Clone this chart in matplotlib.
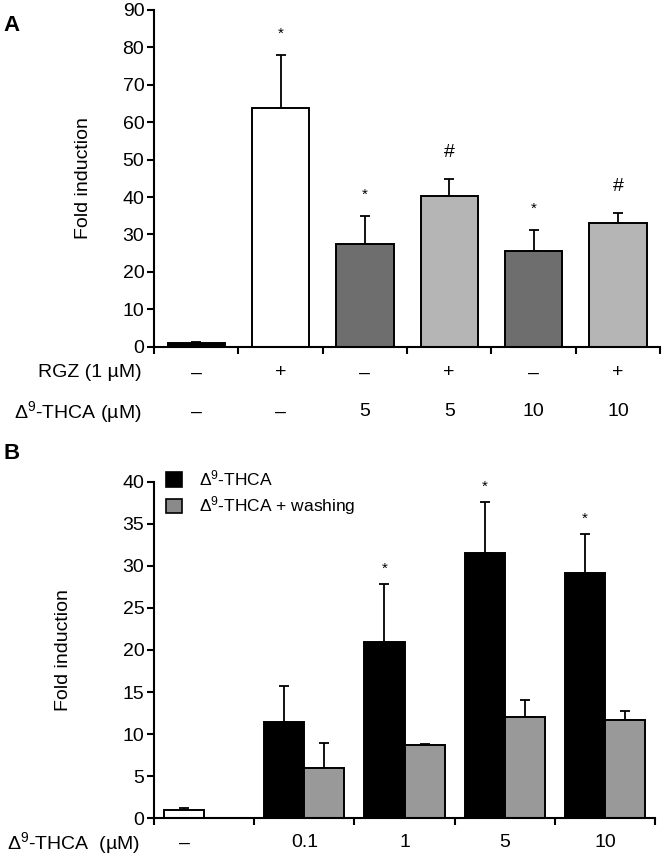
import numpy as np
import matplotlib.pyplot as plt
from matplotlib.patches import Patch

plt.rcParams["font.family"] = ["Liberation Sans", "DejaVu Sans"]
plt.rcParams["mathtext.fontset"] = "custom"
plt.rcParams["mathtext.rm"] = "Liberation Sans"
plt.rcParams["mathtext.it"] = "Liberation Sans:italic"

# ------------------------------------------------------------
# Panel A data
# ------------------------------------------------------------
a_values = [1.0, 63.8, 27.5, 40.3, 25.5, 33.0]
a_errors = [0.3, 14.2, 7.4, 4.5, 5.7, 2.7]
a_colors = ["#000000", "#ffffff", "#6e6e6e", "#b5b5b5", "#6e6e6e", "#b5b5b5"]
a_marks = ["", "*", "*", "#", "*", "#"]
a_rgz = ["–", "+", "–", "+", "–", "+"]
a_thca = ["–", "–", "5", "5", "10", "10"]

# ------------------------------------------------------------
# Panel B data
# ------------------------------------------------------------
b_labels = ["–", "0.1", "1", "5", "10"]
b_control = 1.0
b_control_err = 0.2
b_thca = [11.4, 21.0, 31.5, 29.1]
b_thca_err = [4.3, 6.8, 6.1, 4.7]
b_wash = [6.0, 8.7, 12.0, 11.7]
b_wash_err = [2.9, 0.15, 2.0, 1.1]
b_marks = ["", "*", "*", "*"]

FS = 14
THCA = r"Δ$^{9}$-THCA"

fig = plt.figure(figsize=(6.65, 8.6), dpi=100)


def style_axes(ax):
    for side in ["top", "right"]:
        ax.spines[side].set_visible(False)
    for side in ["left", "bottom"]:
        ax.spines[side].set_linewidth(1.5)
    ax.tick_params(axis="y", direction="out", length=5, width=1.5, labelsize=FS, pad=2)
    ax.tick_params(axis="x", direction="out", length=5, width=1.5, labelbottom=False)


# ============================================================
# Panel A
# ============================================================
axA = fig.add_axes([0.2316, 0.5969, 0.761, 0.3915])
xa = np.arange(len(a_values)) + 0.5
axA.bar(xa, a_values, width=0.68, color=a_colors, edgecolor="black", linewidth=1.4, zorder=2)
axA.errorbar(xa, a_values, yerr=[np.zeros(len(a_errors)), a_errors], fmt="none",
             ecolor="black", elinewidth=1.3, capsize=3.5, capthick=1.3, zorder=1)

for x, v, e, m in zip(xa, a_values, a_errors, a_marks):
    if m:
        fs = 11 if m == "*" else 14
        off = 10 if m == "*" else 13
        axA.annotate(m, (x, v + e), xytext=(0, off), textcoords="offset points",
                     ha="center", va="bottom", fontsize=fs)

axA.set_xlim(0, len(a_values))
axA.set_ylim(0, 90)
axA.set_yticks(np.arange(0, 91, 10))
axA.set_xticks(np.arange(0, len(a_values) + 1))
axA.set_ylabel("Fold induction", fontsize=FS, labelpad=22)
style_axes(axA)

for x, r, t in zip(xa, a_rgz, a_thca):
    axA.text(x, -0.078, r, transform=axA.get_xaxis_transform(), ha="center", va="center", fontsize=FS)
    axA.text(x, -0.194, t, transform=axA.get_xaxis_transform(), ha="center", va="center", fontsize=FS)
axA.text(-0.024, -0.078, "RGZ (1 µM)", transform=axA.transAxes, ha="right", va="center", fontsize=FS)
axA.text(-0.024, -0.194, THCA + " (µM)", transform=axA.transAxes, ha="right", va="center", fontsize=FS)

fig.text(0.005, 0.97, "A", fontsize=16, fontweight="bold", ha="left", va="center")

# ============================================================
# Panel B
# ============================================================
axB = fig.add_axes([0.2316, 0.0485, 0.7534, 0.3914])
w = 0.4
xb = np.arange(1, len(b_labels))
axB.bar([0.3], [b_control], width=w, color="white", edgecolor="black", linewidth=1.4, zorder=2)
axB.errorbar([0.3], [b_control], yerr=[[0], [b_control_err]], fmt="none",
             ecolor="black", elinewidth=1.3, capsize=3.5, capthick=1.3, zorder=1)
axB.bar(xb + 0.3, b_thca, width=w, color="black", edgecolor="black", linewidth=1.4, zorder=2)
axB.errorbar(xb + 0.3, b_thca, yerr=[np.zeros(len(b_thca)), b_thca_err], fmt="none",
             ecolor="black", elinewidth=1.3, capsize=3.5, capthick=1.3, zorder=1)
axB.bar(xb + 0.7, b_wash, width=w, color="#999999", edgecolor="black", linewidth=1.4, zorder=2)
axB.errorbar(xb + 0.7, b_wash, yerr=[np.zeros(len(b_wash)), b_wash_err], fmt="none",
             ecolor="black", elinewidth=1.3, capsize=3.5, capthick=1.3, zorder=1)

for x, v, e, m in zip(xb + 0.3, b_thca, b_thca_err, b_marks):
    if m:
        axB.annotate(m, (x, v + e), xytext=(0, 6), textcoords="offset points",
                     ha="center", va="bottom", fontsize=11)

axB.set_xlim(0, len(b_labels))
axB.set_ylim(0, 40)
axB.set_yticks(np.arange(0, 41, 5))
axB.set_xticks(np.arange(0, len(b_labels) + 1))
axB.set_ylabel("Fold induction", fontsize=FS, labelpad=36)
style_axes(axB)

label_x = [0.3] + list(xb + 0.5)
for x, lab in zip(label_x, b_labels):
    axB.text(x, -0.073, lab, transform=axB.get_xaxis_transform(), ha="center", va="center", fontsize=FS)
axB.text(-0.028, -0.073, THCA + "  (µM)", transform=axB.transAxes, ha="right", va="center", fontsize=FS)

handles = [Patch(facecolor="black", edgecolor="black", linewidth=1.2),
           Patch(facecolor="#8a8a8a", edgecolor="black", linewidth=1.2)]
axB.legend(handles, [THCA, THCA + " + washing"], loc="upper left", bbox_to_anchor=(0.0, 1.075),
           frameon=False, fontsize=12.5, handlelength=0.9, handleheight=0.9,
           handletextpad=1.0, labelspacing=0.35, borderaxespad=0.3)

fig.text(0.005, 0.473, "B", fontsize=16, fontweight="bold", ha="left", va="center")

fig.savefig("out.png", dpi=100)
